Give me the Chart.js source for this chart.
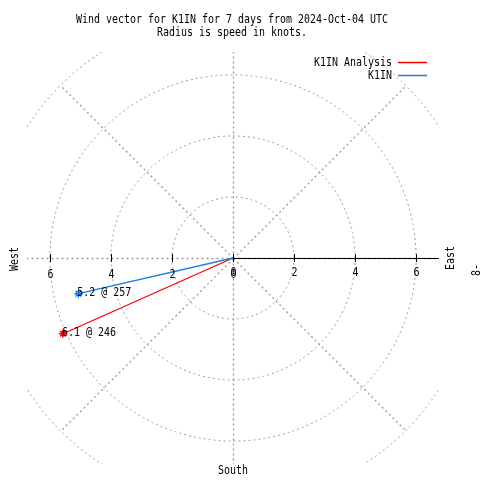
<!DOCTYPE html>
<html>
<head>
<meta charset="utf-8">
<script src="https://cdn.jsdelivr.net/npm/chart.js@4.4.1/dist/chart.umd.min.js"></script>
<style>
  html, body { margin: 0; padding: 0; background: #fff; }
  #wrap { width: 480px; height: 480px; }
</style>
</head>
<body>
<div id="wrap"><canvas id="windChart" width="480" height="480"></canvas></div>
<script>
// wind vectors (speed in knots, direction in degrees)
const stations = ['K1IN Analysis', 'K1IN'];
const speeds = [6.1, 5.2];
const directions = [246, 257];
const seriesColors = ['#ff0000', '#1a7ee6'];

const ringValues = [2, 4, 6, 8];
const tickValues = [0, 2, 4, 6];
const spokeAngles = [0, 45, 90, 135, 180, 225, 270, 315];
const titleLines = ['Wind vector for K1IN for 7 days from 2024-Oct-04 UTC', 'Radius is speed in knots.'];

const FONT = '12px "DejaVu Sans Mono", monospace';

// write text squeezed to ~6px per char like the original bitmap font
function drawText(ctx, str, x, y, align, rot) {
  ctx.save();
  ctx.translate(x, y);
  if (rot) ctx.rotate(rot);
  ctx.scale(0.83, 1);
  ctx.font = FONT;
  ctx.fillStyle = '#000';
  ctx.textAlign = align || 'center';
  ctx.textBaseline = 'middle';
  ctx.fillText(str, 0, 0);
  ctx.restore();
}

const toPoint = (speed, dir) => ({
  x: speed * Math.sin(dir * Math.PI / 180),
  y: speed * Math.cos(dir * Math.PI / 180)
});

const datasets = stations.map((name, i) => ({
  label: name,
  data: [{ x: 0, y: 0 }, toPoint(speeds[i], directions[i])],
  showLine: true,
  borderColor: seriesColors[i],
  backgroundColor: seriesColors[i],
  borderWidth: 1.3,
  pointStyle: 'star',
  pointRadius: [0, 4],
  pointBorderColor: seriesColors[i],
  pointBorderWidth: 1.5
})).reverse();

const polarGrid = {
  id: 'polarGrid',
  beforeDatasetsDraw(chart) {
    const { ctx, chartArea: a, scales: { x, y } } = chart;
    const cx = x.getPixelForValue(0), cy = y.getPixelForValue(0);
    const unit = x.getPixelForValue(1) - cx;
    ctx.save();
    ctx.beginPath();
    ctx.rect(a.left, a.top, a.right - a.left, a.bottom - a.top);
    ctx.clip();
    ctx.strokeStyle = '#9a9a9a';
    ctx.lineWidth = 1;
    ctx.setLineDash([2, 3]);
    ringValues.forEach(r => {
      ctx.beginPath();
      ctx.arc(cx, cy, r * unit, 0, Math.PI * 2);
      ctx.stroke();
    });
    const outer = ringValues[ringValues.length - 1];
    ctx.lineWidth = 1.3;
    spokeAngles.forEach(deg => {
      const p = toPoint(outer, deg);
      ctx.beginPath();
      ctx.moveTo(cx + 0.5, cy + 0.5);
      ctx.lineTo(x.getPixelForValue(p.x) + 0.5, y.getPixelForValue(p.y) + 0.5);
      ctx.stroke();
    });
    ctx.restore();

    // solid east axis with ticks
    ctx.save();
    ctx.strokeStyle = '#000';
    ctx.lineWidth = 1;
    ctx.beginPath();
    ctx.moveTo(cx, cy + 0.5);
    ctx.lineTo(a.right, cy + 0.5);
    ctx.stroke();
    tickValues.forEach(v => {
      [v, -v].forEach(t => {
        const px = Math.round(x.getPixelForValue(t)) + 0.5;
        ctx.beginPath();
        ctx.moveTo(px, cy - 4);
        ctx.lineTo(px, cy + 4);
        ctx.stroke();
      });
    });
    ctx.restore();
  },
  afterDraw(chart) {
    const { ctx, chartArea: a, scales: { x, y } } = chart;
    const cx = x.getPixelForValue(0), cy = y.getPixelForValue(0);

    titleLines.forEach((t, i) => drawText(ctx, t, 232, 20 + i * 13));

    tickValues.forEach(v => {
      drawText(ctx, String(v), x.getPixelForValue(v) + 0.5, cy + 15);
      drawText(ctx, String(v), x.getPixelForValue(-v) + 0.5, cy + 17);
    });

    drawText(ctx, 'West', 15, cy + 1, 'center', -Math.PI / 2);
    drawText(ctx, 'East', 451, cy, 'center', -Math.PI / 2);
    drawText(ctx, 'South', cx, 471);
    drawText(ctx, '8-', 477, cy + 12, 'center', -Math.PI / 2);

    // value labels at vector tips
    stations.forEach((name, i) => {
      const p = toPoint(speeds[i], directions[i]);
      drawText(ctx, speeds[i] + ' @ ' + directions[i],
        x.getPixelForValue(p.x) - 1, y.getPixelForValue(p.y) - 1, 'left');
    });

    // legend
    stations.forEach((name, i) => {
      const ly = 63 + i * 12.5;
      drawText(ctx, name, 392, ly, 'right');
      ctx.save();
      ctx.strokeStyle = seriesColors[i];
      ctx.lineWidth = 1.5;
      ctx.beginPath();
      ctx.moveTo(398, Math.round(ly) - 0.5);
      ctx.lineTo(427, Math.round(ly) - 0.5);
      ctx.stroke();
      ctx.restore();
    });
  }
};

new Chart(document.getElementById('windChart'), {
  type: 'scatter',
  data: { datasets: datasets },
  options: {
    responsive: false,
    animation: false,
    layout: { padding: { left: 27, right: 41, top: 52, bottom: 16 } },
    scales: {
      x: { type: 'linear', min: -6.75, max: 6.75, display: false },
      y: { type: 'linear', min: -6.75, max: 6.75, display: false }
    },
    plugins: {
      legend: { display: false },
      title: { display: false },
      tooltip: { enabled: false }
    }
  },
  plugins: [polarGrid]
});
</script>
</body>
</html>
